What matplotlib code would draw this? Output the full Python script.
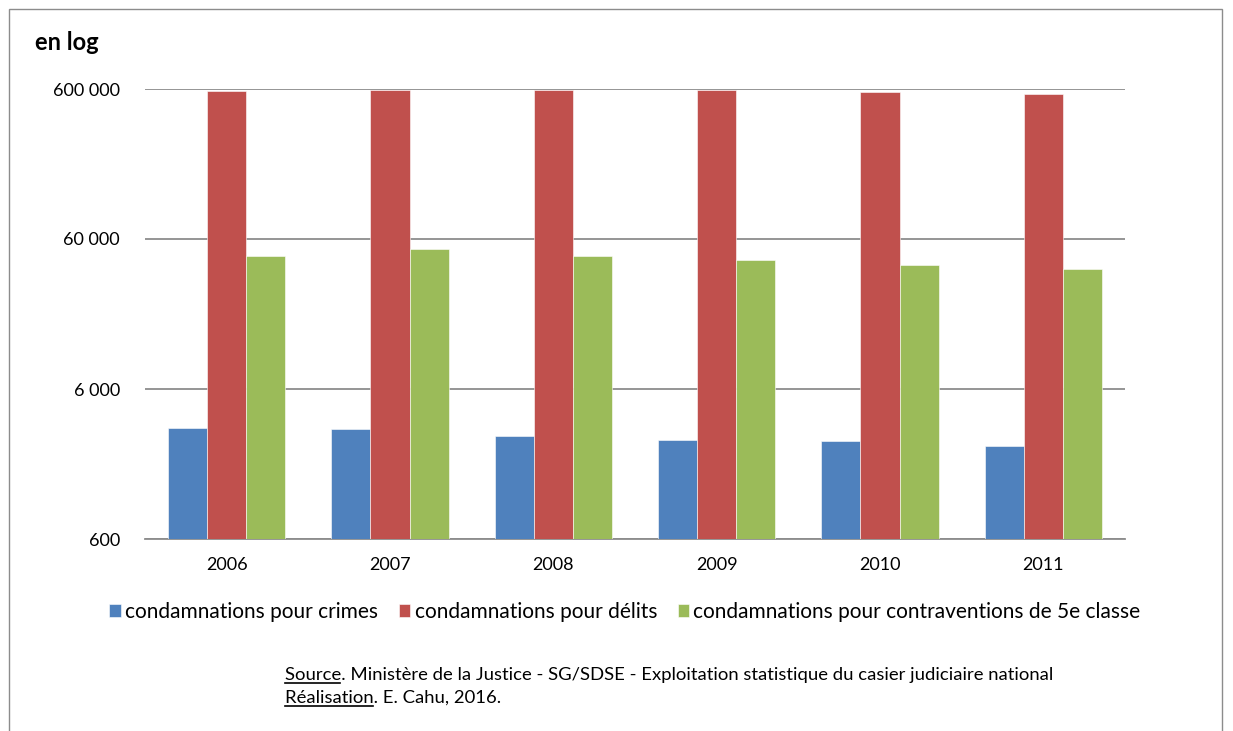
import matplotlib
matplotlib.use('Agg')
import matplotlib.pyplot as plt
import numpy as np
from matplotlib.ticker import FixedLocator, NullLocator

plt.rcParams['font.family'] = ['Lato', 'DejaVu Sans']

# Data (log scale)
years = ['2006', '2007', '2008', '2009', '2010', '2011']
crimes = [3310, 3260, 2930, 2740, 2710, 2490]
delits = [584800, 593600, 595000, 593000, 572000, 556000]
contraventions = [46400, 51400, 46400, 43300, 40100, 38000]
series_labels = ['condamnations pour crimes', 'condamnations pour délits',
                 'condamnations pour contraventions de 5e classe']
series_colors = ['#4f81bd', '#c0504d', '#9bbb59']
y_ticks = [600, 6000, 60000, 600000]
y_tick_labels = ['600', '6 000', '60 000', '600 000']

W, H = 1233, 731
fig = plt.figure(figsize=(W / 100, H / 100), dpi=100)

# outer chart frame
frame = plt.Rectangle((9 / W, -0.01), (1222 - 9) / W, 1.01 - 9 / H, transform=fig.transFigure,
                      fill=False, edgecolor='#8c8c8c', linewidth=1)
fig.patches.append(frame)

ax = fig.add_axes([145 / W, 1 - 539 / H, (1125 - 145) / W, (539 - 89) / H])
ax.set_yscale('log')
ax.set_ylim(600, 600000)
ax.set_xlim(-0.5, len(years) - 0.5)

x = np.arange(len(years))
bw = 0.24
for i, (vals, col) in enumerate(zip([crimes, delits, contraventions], series_colors)):
    ax.bar(x + (i - 1) * bw, vals, width=bw, color=col, edgecolor='white', linewidth=0.4,
           label=series_labels[i], zorder=3)

ax.yaxis.set_major_locator(FixedLocator(y_ticks))
ax.yaxis.set_minor_locator(NullLocator())
ax.set_yticklabels(y_tick_labels, fontsize=13)
ax.set_xticks(x)
ax.set_xticklabels(years, fontsize=13)
ax.tick_params(axis='both', length=0)
ax.tick_params(axis='y', pad=18)
ax.tick_params(axis='x', pad=13)
ax.grid(axis='y', color='#8c8c8c', linewidth=1.3, zorder=0)
for s in ['left', 'right', 'top']:
    ax.spines[s].set_visible(False)
ax.spines['bottom'].set_color('#8c8c8c')
ax.spines['bottom'].set_linewidth(1.3)

fig.text(35 / W, 1 - 43 / H, 'en log', fontsize=17, fontweight='bold', va='center')

handles, labels = ax.get_legend_handles_labels()
fig.legend(handles, labels, loc='center', bbox_to_anchor=(625 / W, 1 - 612 / H), ncol=3,
           frameon=False, fontsize=15, handlelength=0.55, handleheight=0.55,
           handletextpad=0.2, columnspacing=1.0)

# source lines with underlined first word
renderer = fig.canvas.get_renderer()
lines = [('Source', '. Ministère de la Justice - SG/SDSE - Exploitation statistique du casier judiciaire national', 680),
         ('Réalisation', '. E. Cahu, 2016.', 703)]
for word, rest, ybase in lines:
    probe = fig.text(285 / W, 1 - ybase / H, word, fontsize=13.3, va='baseline', alpha=0)
    bb = probe.get_window_extent(renderer)
    probe.remove()
    fig.text(285 / W, 1 - ybase / H, word + rest, fontsize=13.3, va='baseline')
    yu = 1 - (ybase + 3) / H
    fig.add_artist(plt.Line2D([bb.x0 / W, (bb.x1 - 1) / W], [yu, yu],
                              color='black', linewidth=1.2, transform=fig.transFigure))

fig.savefig('out.png', dpi=100)
